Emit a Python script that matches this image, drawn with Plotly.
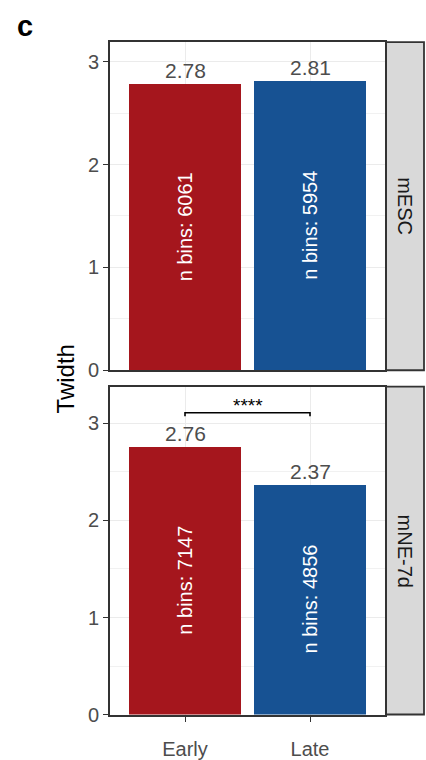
import plotly.graph_objects as go

# Data
groups = ["Early", "Late"]
conditions = ["mESC", "mNE-7d"]
twidth_mesc = [2.78, 2.81]
twidth_mne = [2.76, 2.37]
nbins_mesc = [6061, 5954]
nbins_mne = [7147, 4856]
bar_colors = ["#A5161D", "#175293"]
sig_label = "****"
sig_y = 3.11
y_ticks = [0, 1, 2, 3]

W, H = 426, 760
FONT = "Arial, Liberation Sans, sans-serif"
GREY_TXT = "#4D4D4D"
BORDER = "#333333"


def px_x(p):
    return p / W


def px_y(p):
    return 1 - p / H


# panel geometry (paper coordinates)
x_dom = [px_x(110), px_x(385)]
top_dom = [px_y(375.7), px_y(42.7)]
bot_dom = [px_y(725), px_y(392.3)]
xpos = [1, 2]

fig = go.Figure()

panels = [
    ("x", "y", twidth_mesc, nbins_mesc),
    ("x2", "y2", twidth_mne, nbins_mne),
]
for xa, ya, vals, nb in panels:
    fig.add_trace(go.Bar(
        x=xpos, y=vals, width=0.9, xaxis=xa, yaxis=ya,
        marker=dict(color=bar_colors, line=dict(width=0)),
        showlegend=False, hoverinfo="skip",
    ))
    for xi, v, n in zip(xpos, vals, nb):
        # value label above the bar
        fig.add_annotation(x=xi, y=v, xref=xa, yref=ya, text=f"{v:.2f}",
                           showarrow=False, xanchor="center", yanchor="bottom", yshift=0,
                           font=dict(family=FONT, size=21, color=GREY_TXT))
        # bin count inside the bar
        fig.add_annotation(x=xi, y=v / 2, xref=xa, yref=ya, text=f"n bins: {n}",
                           showarrow=False, textangle=-90,
                           xanchor="center", yanchor="middle",
                           font=dict(family=FONT, size=20, color="white"))

# significance bracket in the lower panel
tip = 0.035
fig.add_trace(go.Scatter(
    x=[xpos[0], xpos[0], xpos[1], xpos[1]],
    y=[sig_y - tip, sig_y, sig_y, sig_y - tip],
    mode="lines", line=dict(color="black", width=1.6),
    xaxis="x2", yaxis="y2", showlegend=False, hoverinfo="skip",
))
fig.add_annotation(x=sum(xpos) / 2, y=sig_y, xref="x2", yref="y2", text=sig_label,
                   showarrow=False, xanchor="center", yanchor="bottom", yshift=-5,
                   font=dict(family=FONT, size=19, color="black"))

axis_common = dict(
    showline=True, linecolor=BORDER, linewidth=1.8, mirror=True,
    showgrid=True, gridcolor="#EBEBEB", gridwidth=1, zeroline=False,
)

y_common = dict(
    axis_common, tickmode="array", tickvals=y_ticks,
    ticks="outside", ticklen=5, tickwidth=1.4, tickcolor=BORDER,
    tickfont=dict(family=FONT, size=20, color=GREY_TXT),
    minor=dict(dtick=0.5, tick0=0, showgrid=True, gridcolor="#F1F1F1", gridwidth=0.8),
)

fig.update_layout(
    width=W, height=H,
    margin=dict(l=0, r=0, t=0, b=0),
    paper_bgcolor="white", plot_bgcolor="white",
    bargap=0,
    xaxis=dict(axis_common, domain=x_dom, range=[0.4, 2.6], anchor="y",
               tickvals=xpos, showticklabels=False, ticks=""),
    yaxis=dict(y_common, domain=top_dom, range=[0, 3.19], anchor="x"),
    xaxis2=dict(axis_common, domain=x_dom, range=[0.4, 2.6], anchor="y2",
                tickmode="array", tickvals=xpos, ticktext=groups,
                ticks="outside", ticklen=6, tickwidth=1.4, tickcolor=BORDER,
                ticklabelstandoff=10,
                tickfont=dict(family=FONT, size=20, color=GREY_TXT)),
    yaxis2=dict(y_common, domain=bot_dom, range=[0, 3.38], anchor="x2"),
)

# facet strips on the right
for dom, label in zip([top_dom, bot_dom], conditions):
    fig.add_shape(type="rect", xref="paper", yref="paper",
                  x0=px_x(386), x1=px_x(424), y0=dom[0], y1=dom[1],
                  fillcolor="#D9D9D9", line=dict(color=BORDER, width=1.8),
                  layer="below")
    fig.add_annotation(x=px_x(405), y=(dom[0] + dom[1]) / 2, xref="paper", yref="paper",
                       text=label, showarrow=False, textangle=90,
                       xanchor="center", yanchor="middle",
                       font=dict(family=FONT, size=20, color="#1A1A1A"))

# shared y-axis title
fig.add_annotation(x=px_x(65), y=px_y(385), xref="paper", yref="paper",
                   text="Twidth", showarrow=False, textangle=-90,
                   xanchor="center", yanchor="middle",
                   font=dict(family=FONT, size=24, color="black"))

# panel tag
fig.add_annotation(x=px_x(25), y=px_y(26), xref="paper", yref="paper",
                   text="<b>c</b>", showarrow=False,
                   xanchor="center", yanchor="middle",
                   font=dict(family=FONT, size=29, color="black"))

fig.write_html("out.html")
